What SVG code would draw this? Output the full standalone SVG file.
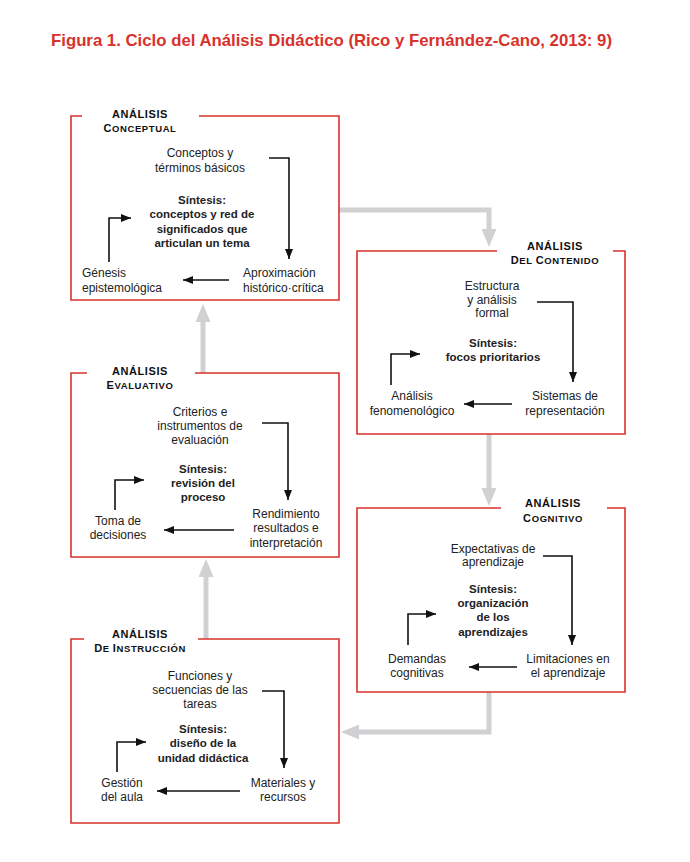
<svg xmlns="http://www.w3.org/2000/svg" width="690" height="862" viewBox="0 0 690 862">
<style>
.box{fill:none;stroke:#d8322c;stroke-width:1.6}
.t{font-family:"Liberation Sans",Arial,sans-serif;font-size:12px;fill:#222;text-anchor:middle}
.l{text-anchor:start}
.b{font-weight:bold;font-size:11.5px}
.h{font-family:"Liberation Sans",Arial,sans-serif;font-size:9.5px;font-weight:bold;fill:#111;text-anchor:middle;letter-spacing:0.6px}
.h .c,.h.a{font-size:11px}
.k{fill:none;stroke:#111;stroke-width:1.6}
.g{fill:none;stroke:#d1d1d4;stroke-width:5}
.title{font-family:"Liberation Sans",Arial,sans-serif;font-size:17px;font-weight:bold;fill:#d8322c}
</style>
<defs>
<marker id="ah" markerUnits="userSpaceOnUse" markerWidth="10" markerHeight="8" refX="10" refY="4" orient="auto"><path d="M0,0 L10,4 L0,8 z" fill="#111"/></marker>
<marker id="gh" markerUnits="userSpaceOnUse" markerWidth="18" markerHeight="15" refX="0" refY="7.5" orient="auto"><path d="M0,0 L18,7.5 L0,15 z" fill="#d1d1d4"/></marker>
</defs>
<rect width="690" height="862" fill="#fff"/>
<text class="title" x="51" y="46" textLength="561" lengthAdjust="spacingAndGlyphs">Figura 1. Ciclo del Análisis Didáctico (Rico y Fernández-Cano, 2013: 9)</text>

<g id="connectors">
<polyline class="g" points="339,210 489,210 489,229" marker-end="url(#gh)"/>
<line class="g" x1="489" y1="434" x2="489" y2="488" marker-end="url(#gh)"/>
<polyline class="g" points="489,692 489,732 359,732" marker-end="url(#gh)"/>
<line class="g" x1="206" y1="639" x2="206" y2="577" marker-end="url(#gh)"/>
<line class="g" x1="203" y1="373" x2="203" y2="322" marker-end="url(#gh)"/>
</g>

<g id="conceptual">
<path class="box" d="M199,116 H339 V300 H71 V116 H82"/>
<text class="h a" x="140" y="118">ANÁLISIS</text>
<text class="h" x="140" y="132"><tspan class="c">C</tspan>ONCEPTUAL</text>
<text class="t" x="200" y="157">Conceptos y</text>
<text class="t" x="200" y="172">términos básicos</text>
<text class="t b" x="202" y="204">Síntesis:</text>
<text class="t b" x="202" y="218">conceptos y red de</text>
<text class="t b" x="202" y="233">significados que</text>
<text class="t b" x="202" y="247">articulan un tema</text>
<text class="t l" x="82" y="277">Génesis</text>
<text class="t l" x="82" y="292">epistemológica</text>
<text class="t l" x="243" y="277">Aproximación</text>
<text class="t l" x="243" y="292">histórico·crítica</text>
<polyline class="k" points="269,158 289,158 289,259" marker-end="url(#ah)"/>
<polyline class="k" points="109,262 109,218 131,218" marker-end="url(#ah)"/>
<line class="k" x1="229" y1="280" x2="183" y2="280" marker-end="url(#ah)"/>
</g>

<g id="contenido">
<path class="box" d="M613,251 H625 V434 H357 V251 H497"/>
<text class="h a" x="555" y="250">ANÁLISIS</text>
<text class="h" x="555" y="264"><tspan class="c">D</tspan>EL <tspan class="c">C</tspan>ONTENIDO</text>
<text class="t" x="492" y="290">Estructura</text>
<text class="t" x="492" y="304">y análisis</text>
<text class="t" x="492" y="317">formal</text>
<text class="t b" x="493" y="347">Síntesis:</text>
<text class="t b" x="493" y="361">focos prioritarios</text>
<text class="t" x="412" y="400">Análisis</text>
<text class="t" x="412" y="415">fenomenológico</text>
<text class="t" x="565" y="400">Sistemas de</text>
<text class="t" x="565" y="415">representación</text>
<polyline class="k" points="537,302 573,302 573,382" marker-end="url(#ah)"/>
<polyline class="k" points="391,385 391,354 420,354" marker-end="url(#ah)"/>
<line class="k" x1="512" y1="404" x2="464" y2="404" marker-end="url(#ah)"/>
</g>

<g id="evaluativo">
<path class="box" d="M195,373 H339 V557 H71 V373 H87"/>
<text class="h a" x="140" y="375">ANÁLISIS</text>
<text class="h" x="140" y="389"><tspan class="c">E</tspan>VALUATIVO</text>
<text class="t" x="200" y="416">Criterios e</text>
<text class="t" x="200" y="430">instrumentos de</text>
<text class="t" x="200" y="444">evaluación</text>
<text class="t b" x="203" y="473">Síntesis:</text>
<text class="t b" x="203" y="487">revisión del</text>
<text class="t b" x="203" y="501">proceso</text>
<text class="t" x="118" y="525">Toma de</text>
<text class="t" x="118" y="539">decisiones</text>
<text class="t" x="286" y="518">Rendimiento</text>
<text class="t" x="286" y="532">resultados e</text>
<text class="t" x="286" y="547">interpretación</text>
<polyline class="k" points="262,423 288,423 288,500" marker-end="url(#ah)"/>
<polyline class="k" points="115,510 115,480 144,480" marker-end="url(#ah)"/>
<line class="k" x1="234" y1="530" x2="164" y2="530" marker-end="url(#ah)"/>
</g>

<g id="cognitivo">
<path class="box" d="M607,508 H625 V692 H357 V508 H501"/>
<text class="h a" x="553" y="507">ANÁLISIS</text>
<text class="h" x="553" y="522"><tspan class="c">C</tspan>OGNITIVO</text>
<text class="t" x="493" y="553">Expectativas de</text>
<text class="t" x="493" y="566">aprendizaje</text>
<text class="t b" x="493" y="593">Síntesis:</text>
<text class="t b" x="493" y="607">organización</text>
<text class="t b" x="493" y="621">de los</text>
<text class="t b" x="493" y="636">aprendizajes</text>
<text class="t" x="417" y="663">Demandas</text>
<text class="t" x="417" y="677">cognitivas</text>
<text class="t" x="568" y="663">Limitaciones en</text>
<text class="t" x="568" y="677">el aprendizaje</text>
<polyline class="k" points="543,556 572,556 572,645" marker-end="url(#ah)"/>
<polyline class="k" points="408,645 408,614 436,614" marker-end="url(#ah)"/>
<line class="k" x1="517" y1="667" x2="469" y2="667" marker-end="url(#ah)"/>
</g>

<g id="instruccion">
<path class="box" d="M198,639 H339 V823 H71 V639 H84"/>
<text class="h a" x="140" y="638">ANÁLISIS</text>
<text class="h" x="140" y="652"><tspan class="c">D</tspan>E <tspan class="c">I</tspan>NSTRUCCIÓN</text>
<text class="t" x="200" y="680">Funciones y</text>
<text class="t" x="200" y="694">secuencias de las</text>
<text class="t" x="200" y="708">tareas</text>
<text class="t b" x="203" y="733">Síntesis:</text>
<text class="t b" x="203" y="747">diseño de la</text>
<text class="t b" x="203" y="762">unidad didáctica</text>
<text class="t" x="122" y="787">Gestión</text>
<text class="t" x="122" y="801">del aula</text>
<text class="t" x="283" y="787">Materiales y</text>
<text class="t" x="283" y="801">recursos</text>
<polyline class="k" points="262,691 284,691 284,768" marker-end="url(#ah)"/>
<polyline class="k" points="117,772 117,742 146,742" marker-end="url(#ah)"/>
<line class="k" x1="240" y1="791" x2="157" y2="791" marker-end="url(#ah)"/>
</g>
</svg>
